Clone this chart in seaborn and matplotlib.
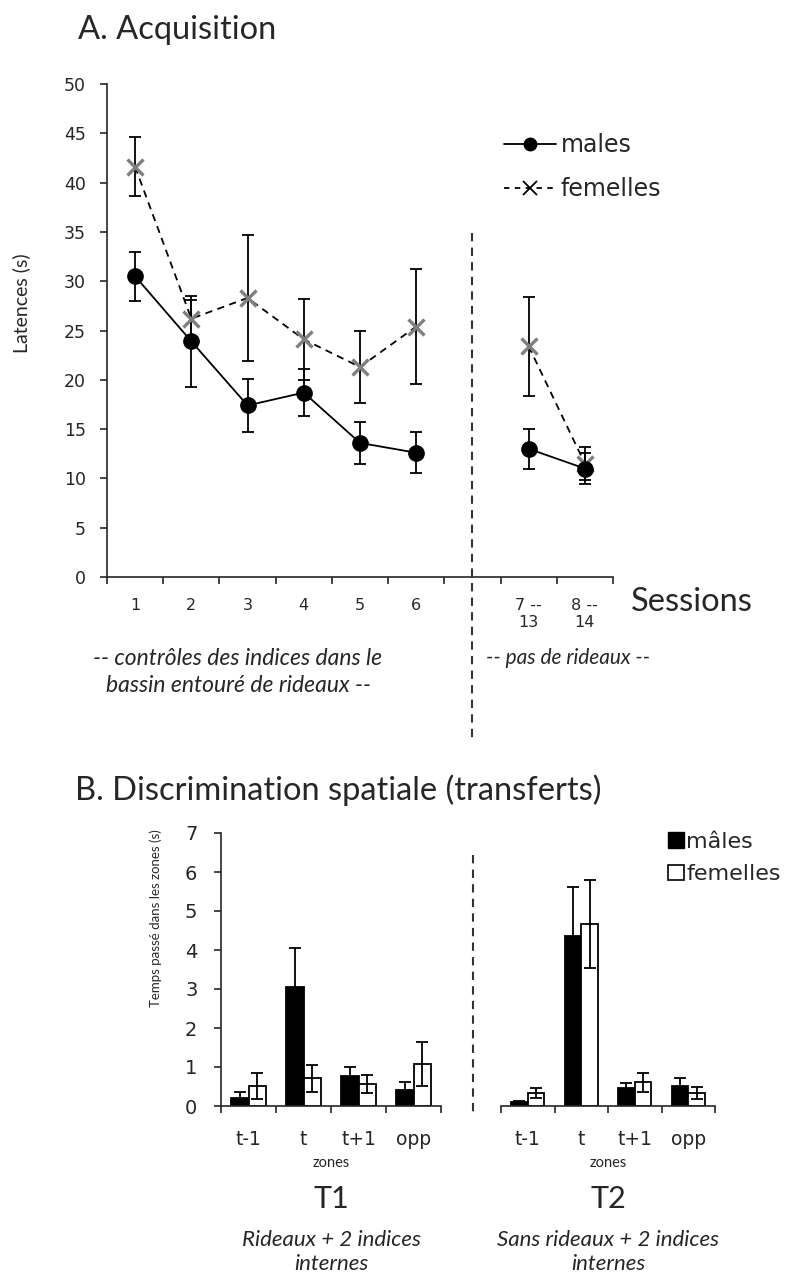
import numpy as np
import pandas as pd
import matplotlib
matplotlib.use("Agg")
import matplotlib.pyplot as plt
from matplotlib.lines import Line2D
from matplotlib.patches import Patch
import seaborn as sns

# ---- data: A. Acquisition ----
session_labels = ["1", "2", "3", "4", "5", "6", "", "7 --\n13", "8 --\n14"]
session_pos = [0, 1, 2, 3, 4, 5, 7, 8]
session_block = ["rideaux"] * 6 + ["sans"] * 2
lat_males = [30.5, 23.9, 17.4, 18.7, 13.6, 12.6, 13.0, 11.0]
err_males = [2.5, 4.6, 2.7, 2.4, 2.1, 2.1, 2.0, 1.6]
lat_femelles = [41.6, 26.2, 28.3, 24.1, 21.3, 25.4, 23.4, 11.5]
err_femelles = [3.0, 1.9, 6.4, 4.1, 3.7, 5.8, 5.0, 1.7]

# ---- data: B. Discrimination spatiale ----
zones = ["t-1", "t", "t+1", "opp"]
t1_males = [0.21, 3.06, 0.77, 0.41]
t1_males_err = [0.14, 1.0, 0.24, 0.2]
t1_femelles = [0.51, 0.71, 0.56, 1.08]
t1_femelles_err = [0.33, 0.35, 0.23, 0.56]
t2_males = [0.09, 4.37, 0.46, 0.51]
t2_males_err = [0.04, 1.25, 0.14, 0.2]
t2_femelles = [0.33, 4.66, 0.61, 0.34]
t2_femelles_err = [0.12, 1.13, 0.24, 0.16]

sns.set_theme(style="ticks")
plt.rcParams["font.family"] = ["DejaVu Sans"]
plt.rcParams["axes.linewidth"] = 1.2
plt.rcParams["xtick.major.width"] = 1.2
plt.rcParams["ytick.major.width"] = 1.2
TXT = ["Lato", "DejaVu Sans"]

fig = plt.figure(figsize=(7.9, 12.74), dpi=100)

# ================= A =================
ax = fig.add_axes([107 / 790, 1 - 577 / 1274, 506 / 790, 493 / 1274])

df_m = pd.DataFrame({"pos": session_pos, "lat": lat_males, "bloc": session_block})
df_f = pd.DataFrame({"pos": session_pos, "lat": lat_femelles, "bloc": session_block})

ax.errorbar(df_f["pos"], df_f["lat"], yerr=err_femelles, fmt="none", ecolor="black",
            elinewidth=1.3, capsize=4, capthick=1.3, zorder=2)
ax.errorbar(df_m["pos"], df_m["lat"], yerr=err_males, fmt="none", ecolor="black",
            elinewidth=1.3, capsize=4, capthick=1.3, zorder=2)

sns.lineplot(data=df_f, x="pos", y="lat", units="bloc", estimator=None, ax=ax,
             color="black", linestyle=(0, (4, 3)), linewidth=1.3, marker="x",
             markersize=12, mec="#7f7f7f", mew=2.4, zorder=3)
sns.lineplot(data=df_m, x="pos", y="lat", units="bloc", estimator=None, ax=ax,
             color="black", linewidth=1.3, marker="o", markersize=11,
             mfc="black", mec="black", mew=1, zorder=4)

ax.set_xlim(-0.5, len(session_labels) - 0.5)
ax.set_ylim(0, 50)
ax.set_yticks(np.arange(0, 51, 5))
ax.set_xticks(np.arange(-0.5, len(session_labels)))
ax.set_xticklabels([])
ax.set_xticks(np.arange(len(session_labels)), minor=True)
ax.set_xticklabels(session_labels, minor=True)
ax.tick_params(axis="x", which="minor", length=0, pad=15, labelsize=11.5)
ax.tick_params(axis="x", which="major", length=5, direction="out")
ax.tick_params(axis="y", length=5, direction="out", labelsize=12.5, pad=10)
ax.set_xlabel("")
ax.set_ylabel("Latences (s)", fontsize=14, family=TXT)
ax.yaxis.set_label_coords(-0.152, 0.556)
sns.despine(ax=ax)

# separation line between the two phases
ax.plot([6, 6], [0.698, -0.337], transform=ax.get_xaxis_transform(), clip_on=False,
        color="#333333", linewidth=1.5, linestyle=(0, (4, 3)))

leg_handles = [
    Line2D([], [], color="black", linewidth=1.3, marker="o", markersize=9, mfc="black", mec="black"),
    Line2D([], [], color="black", linewidth=1.3, linestyle=(0, (3, 3)), marker="x", markersize=10,
           mec="black", mew=1.3),
]
fig.legend(leg_handles, ["males", "femelles"], loc="center left",
           bbox_to_anchor=(504 / 790, 1 - 167 / 1274), frameon=False, fontsize=17,
           handlelength=2.2, handletextpad=0.2, labelspacing=0.85,
           borderpad=0, borderaxespad=0)

fig.text(78 / 790, 1 - 30 / 1274, "A. Acquisition", fontsize=23.5, family=TXT, va="center", ha="left")
fig.text(631 / 790, 1 - 602 / 1274, "Sessions", fontsize=23.5, family=TXT, va="center", ha="left")
fig.text(238 / 790, 1 - 672 / 1274, "-- contrôles des indices dans le\nbassin entouré de rideaux --",
         fontsize=16.5, family=TXT, style="italic", ha="center", va="center", linespacing=1.4)
fig.text(568 / 790, 1 - 658 / 1274, "-- pas de rideaux --", fontsize=15, family=TXT,
         style="italic", ha="center", va="center")

# ================= B =================
fig.text(75 / 790, 1 - 790 / 1274, "B. Discrimination spatiale (transferts)", fontsize=23.5,
         family=TXT, va="center", ha="left")

ax1 = fig.add_axes([221 / 790, 1 - 1106 / 1274, 220 / 790, 273 / 1274])
ax2 = fig.add_axes([501 / 790, 1 - 1106 / 1274, 214 / 790, 273 / 1274])

panels = [
    (ax1, t1_males, t1_males_err, t1_femelles, t1_femelles_err, "T1",
     "Rideaux + 2 indices\ninternes"),
    (ax2, t2_males, t2_males_err, t2_femelles, t2_femelles_err, "T2",
     "Sans rideaux + 2 indices\ninternes"),
]
for a, m, me, f, fe, name, cond in panels:
    dfb = pd.DataFrame({
        "zone": zones * 2,
        "temps": m + f,
        "err": me + fe,
        "sexe": ["mâles"] * 4 + ["femelles"] * 4,
    })
    sns.barplot(data=dfb, x="zone", y="temps", hue="sexe", order=zones,
                hue_order=["mâles", "femelles"], palette={"mâles": "black", "femelles": "white"},
                edgecolor="black", linewidth=1.3, width=0.62, errorbar=None, legend=False, ax=a)
    for cont, errs in zip(a.containers, [me, fe]):
        xs = [p.get_x() + p.get_width() / 2 for p in cont.patches]
        ys = [p.get_height() for p in cont.patches]
        a.errorbar(xs, ys, yerr=errs, fmt="none", ecolor="black", elinewidth=1.3,
                   capsize=4, capthick=1.3, zorder=5)
    a.set_xlim(-0.5, 3.5)
    a.set_ylim(0, 7)
    a.set_xticks(np.arange(-0.5, 4))
    a.set_xticklabels([])
    a.set_xticks(np.arange(4), minor=True)
    a.set_xticklabels(zones, minor=True)
    a.tick_params(axis="x", which="minor", length=0, pad=17, labelsize=13.5)
    a.tick_params(axis="x", which="major", length=5, direction="out")
    a.set_xlabel("zones", fontsize=10.5, family=TXT, labelpad=5)
    a.set_ylabel("")
    a.text(0.5, -0.34, name, transform=a.transAxes, fontsize=22, family=TXT,
           ha="center", va="center")
    a.text(0.5, -0.535, cond, transform=a.transAxes, fontsize=16, family=TXT,
           style="italic", ha="center", va="center", linespacing=1.3)

ax1.set_yticks(np.arange(0, 8))
ax1.tick_params(axis="y", length=5, direction="out", labelsize=14, pad=12)
ax1.set_ylabel("Temps passé dans les zones (s)", fontsize=9.5, family=TXT)
ax1.yaxis.set_label_coords(-0.268, 0.69)
sns.despine(ax=ax1)
sns.despine(ax=ax2, left=True)
ax2.set_yticks([])

fig.add_artist(Line2D([472.7 / 790, 472.7 / 790], [1 - 855 / 1274, 1 - 1112 / 1274],
                      color="#333333", linewidth=1.5, linestyle=(0, (4, 3))))

bar_handles = [Patch(facecolor="black", edgecolor="black"),
               Patch(facecolor="white", edgecolor="black", linewidth=1.2)]
fig.legend(bar_handles, ["mâles", "femelles"], loc="center left",
           bbox_to_anchor=(668 / 790, 1 - 858 / 1274), frameon=False, fontsize=16,
           handlelength=0.7, handleheight=0.7, handletextpad=0.12, labelspacing=0.55,
           borderpad=0, borderaxespad=0)

fig.savefig("out.png", dpi=100)
